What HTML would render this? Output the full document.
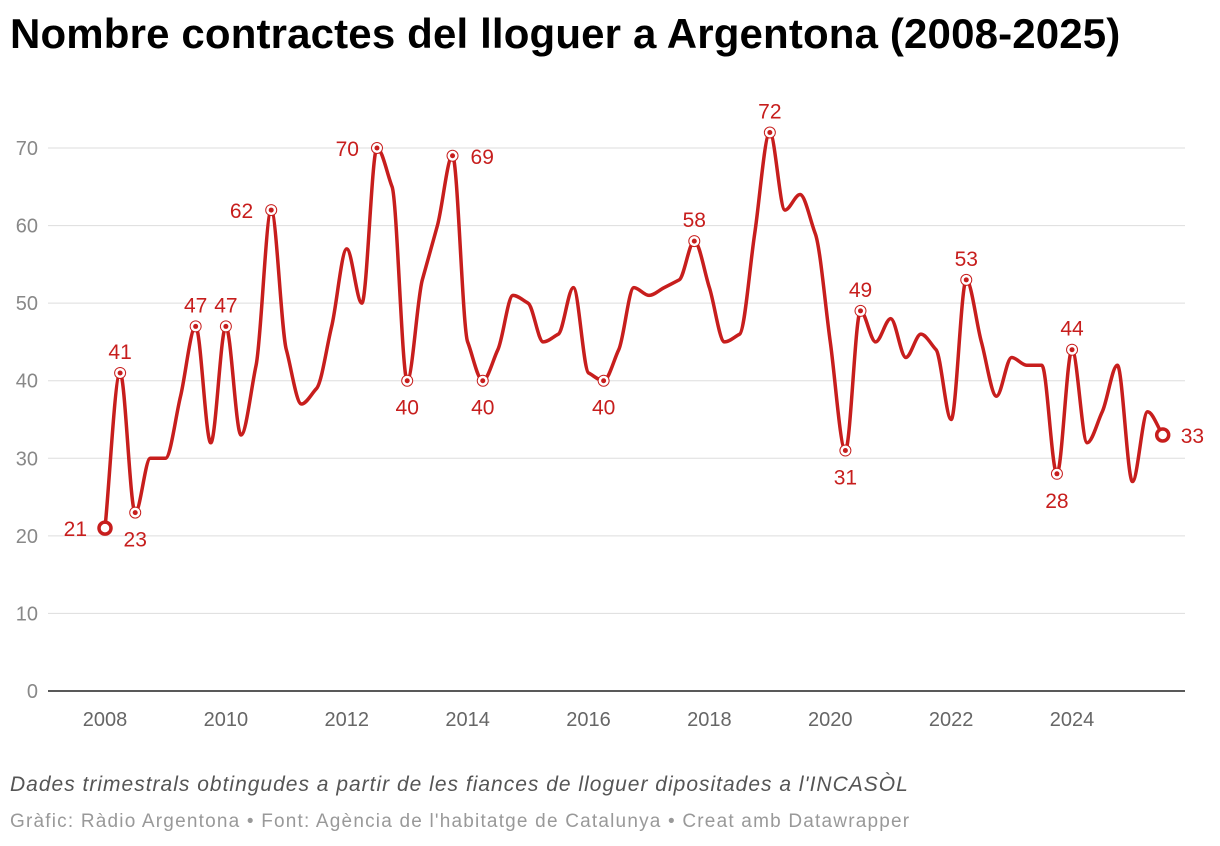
<!DOCTYPE html>
<html><head><meta charset="utf-8">
<style>
body{margin:0;background:#fff;width:1220px;height:846px;overflow:hidden;font-family:"Liberation Sans",sans-serif}
#title{position:absolute;left:10px;top:10px;font-size:42px;font-weight:bold;color:#000;margin:0;letter-spacing:0.15px;white-space:nowrap}
#notes{position:absolute;left:10px;top:773px;font-size:21px;font-style:italic;color:#555;letter-spacing:1px;white-space:nowrap}
#footer{position:absolute;left:10px;top:811px;font-size:19px;color:#999;letter-spacing:1.2px;white-space:nowrap}
svg{position:absolute;left:0;top:0}
</style></head><body>
<h1 id="title">Nombre contractes del lloguer a Argentona (2008-2025)</h1>
<svg id="chart" width="1220" height="846"></svg>
<div id="notes">Dades trimestrals obtingudes a partir de les fiances de lloguer dipositades a l'INCASÒL</div>
<div id="footer">Gràfic: Ràdio Argentona • Font: Agència de l'habitatge de Catalunya • Creat amb Datawrapper</div>
<script>
const values=[21,41,23,30,30,38,47,32,47,33,42,62,44,37,39,47,57,50,70,65,40,53,60,69,45,40,44,51,50,45,46,52,41,40,44,52,51,52,53,58,52,45,46,59,72,62,64,59,45,31,49,45,48,43,46,44,35,53,45,38,43,42,42,28,44,32,36,42,27,36,33];
const startYear=2008;
const yTicks=[0,10,20,30,40,50,60,70];
const xTicks=[2008,2010,2012,2014,2016,2018,2020,2022,2024];
const labelIdx=[0,1,2,6,8,11,18,20,23,25,33,39,44,49,50,57,63,64,70];
const labelPos=['l','t','b','t','t','l','l','b','r','b','b','t','t','b','t','t','b','t','r'];
const NS="http://www.w3.org/2000/svg";
const svg=document.getElementById('chart');
const x0=105,dx=15.11;
function xq(i){return x0+i*dx;}
function xYear(y){return xq((y-startYear)*4);}
function yS(v){return 691-v*7.757;}
function mk(t,a,p){const e=document.createElementNS(NS,t);for(const k in a)e.setAttribute(k,a[k]);(p||svg).appendChild(e);return e;}
yTicks.forEach(v=>{
 const l=mk('line',{x1:48,x2:1185,y1:yS(v),y2:yS(v),stroke:v===0?'#222':'#ddd','stroke-width':v===0?1.5:1});
 
 
 const t=mk('text',{x:38,y:yS(v)+7,'text-anchor':'end','font-size':20,fill:'#888'});
 t.textContent=v;
 
 
});
xTicks.forEach(y=>{
 const t=mk('text',{x:xYear(y),y:726,'text-anchor':'middle','font-size':20,fill:'#666'});
 t.textContent=y;
 
 
});
const P=values.map((v,i)=>[xq(i),yS(v)]);
const n=P.length,m=[],s=[];
for(let i=0;i<n-1;i++)s.push((P[i+1][1]-P[i][1])/(P[i+1][0]-P[i][0]));
for(let i=0;i<n;i++){
 if(i===0)m.push(s[0]);else if(i===n-1)m.push(s[n-2]);
 else{ if(s[i-1]*s[i]<=0)m.push(0);else{m.push(Math.sign(s[i])*Math.min(Math.abs(s[i-1]),Math.abs(s[i]),Math.abs((s[i-1]+s[i])/2)));}}
}
let d=`M${P[0][0]},${P[0][1]}`;
for(let i=0;i<n-1;i++){const h=(P[i+1][0]-P[i][0])/3;
 d+=`C${P[i][0]+h},${P[i][1]+m[i]*h} ${P[i+1][0]-h},${P[i+1][1]-m[i+1]*h} ${P[i+1][0]},${P[i+1][1]}`;}
const line=mk('path',{d:d,fill:'none',stroke:'#c71e1d','stroke-width':3.5,'stroke-linejoin':'round'});


labelIdx.forEach((i,k)=>{
 const cx=xq(i),cy=yS(values[i]);const end=(i===0||i===n-1);
 const c=mk('circle',{cx:cx,cy:cy,r:end?6:5.5,fill:'#fff',stroke:'#c71e1d','stroke-width':end?3.5:1});
 
 
 if(!end){mk('circle',{cx:cx,cy:cy,r:2.5,fill:'#c71e1d'});}
 const p=labelPos[k];let tx=cx,ty=cy,a='middle';
 if(p==='t'){ty=cy-14;}else if(p==='b'){ty=cy+34;}else if(p==='l'){tx=cx-18;ty=cy+8;a='end';}else{tx=cx+18;ty=cy+8;a='start';}
 const t=mk('text',{x:tx,y:ty,'text-anchor':a,'font-size':21,fill:'#c71e1d'});
 t.textContent=values[i];
 
 
});
</script>
</body></html>
